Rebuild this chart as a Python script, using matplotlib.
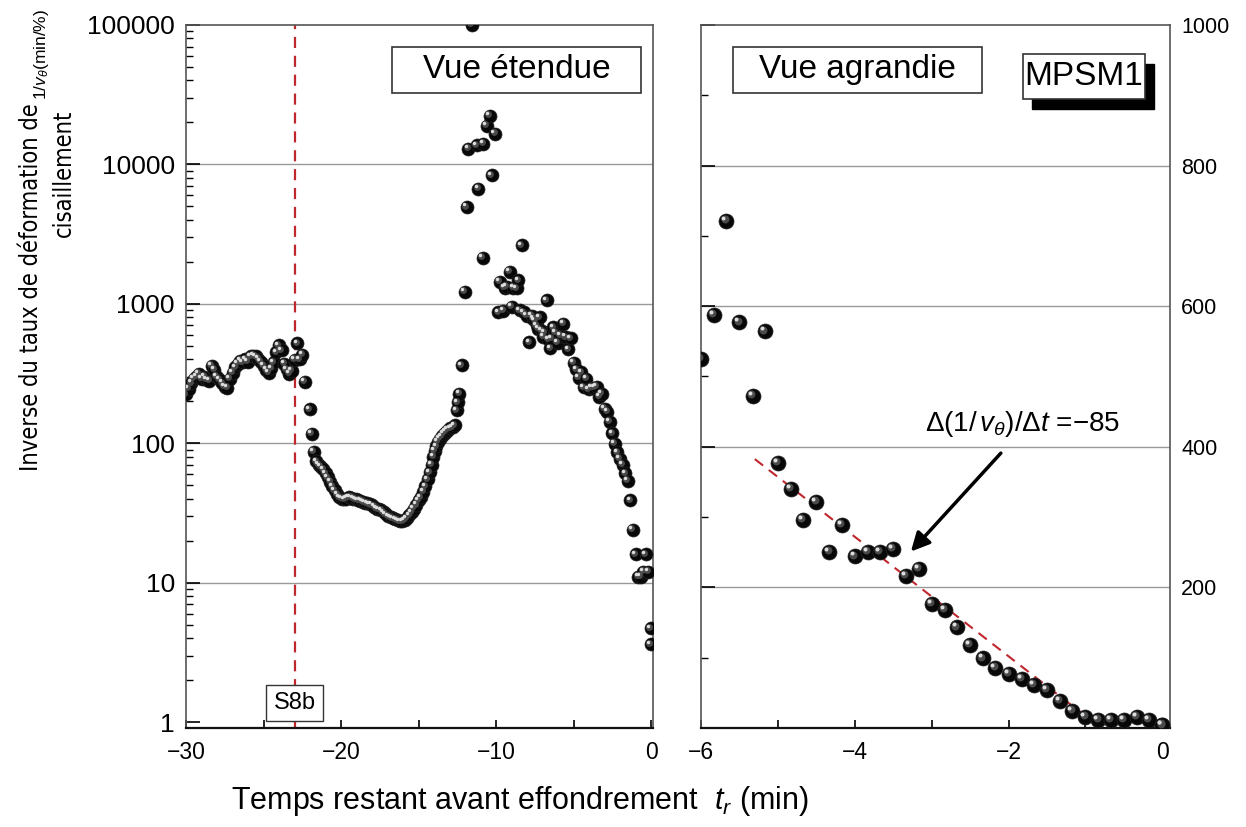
import numpy as np
import matplotlib
matplotlib.use("Agg")
import matplotlib.pyplot as plt
from matplotlib import font_manager as fm
from matplotlib.patches import Rectangle
from matplotlib.transforms import offset_copy
from matplotlib.ticker import FixedLocator, NullFormatter

plt.rcParams['font.family'] = ['Liberation Sans', 'DejaVu Sans']
plt.rcParams['mathtext.fontset'] = 'custom'
plt.rcParams['mathtext.rm'] = 'Liberation Sans'
plt.rcParams['mathtext.it'] = 'Liberation Sans:italic'

## Data: time before collapse (min) and 1/v_theta (min/%)
## early part of the record (only shown in the extended, log-scale view)
early_t = [-30.00, -29.83, -29.67, -29.50, -29.33, -29.17, -29.00, -28.83, -28.67, -28.50,
           -28.33, -28.17, -28.00, -27.83, -27.67, -27.50, -27.33, -27.17, -27.00, -26.83,
           -26.67, -26.50, -26.33, -26.17, -26.00, -25.83, -25.67, -25.50, -25.33, -25.17,
           -25.00, -24.83, -24.67, -24.50, -24.33, -24.17, -24.00, -23.83, -23.67, -23.50,
           -23.33, -23.17, -23.00, -22.83, -22.67, -22.50, -22.33,
           -22.00, -21.88, -21.75, -21.60, -21.45, -21.30, -21.15, -21.00, -20.85, -20.70,
           -20.55, -20.40, -20.25, -20.10, -19.95, -19.80, -19.65, -19.50, -19.35, -19.20,
           -19.05, -18.90, -18.75, -18.60, -18.45, -18.30, -18.15, -18.00, -17.85, -17.70,
           -17.55, -17.40, -17.25, -17.10, -16.95, -16.80, -16.65, -16.50, -16.35, -16.20,
           -16.05, -15.90, -15.75, -15.60, -15.45, -15.30, -15.15, -15.00, -14.85, -14.70,
           -14.55, -14.40, -14.27, -14.15, -14.05, -13.95, -13.85, -13.75, -13.62, -13.50,
           -13.37, -13.25, -13.12, -12.95, -12.78, -12.65, -12.54, -12.45, -12.37, -12.21,
           -12.00, -11.89, -11.79, -11.57, -11.25, -11.14, -10.86, -10.82, -10.60, -10.39,
           -10.28, -10.06, -9.85, -9.74, -9.53, -9.42, -9.31, -9.10, -8.99, -8.88,
           -8.67, -8.56, -8.45, -8.34, -8.20, -8.02, -7.85, -7.70, -7.59, -7.48,
           -7.38, -7.27, -7.16, -7.05, -6.95, -6.84, -6.73, -6.62, -6.50, -6.40,
           -6.30, -6.17]
early_v = [225, 245, 270, 290, 300, 315, 290, 300, 285, 280,
           360, 335, 300, 285, 270, 255, 250, 290, 320, 350,
           370, 390, 380, 400, 385, 420, 425, 420, 405, 385,
           360, 335, 320, 345, 380, 450, 505, 465, 370, 340,
           315, 330, 395, 520, 400, 430, 275,
           175, 117, 87, 74, 70, 68, 65, 61, 57, 53,
           49, 46, 43, 41, 40, 39.5, 40, 41, 40.5, 40,
           39.5, 39, 38.5, 38, 37.5, 37, 36.5, 36, 35, 34,
           33.5, 33, 32, 31, 30, 29.5, 29, 28.5, 28, 27.5,
           27.5, 28, 29, 30.5, 32, 34, 36, 39, 41, 45,
           49, 55, 62, 70, 80, 88, 95, 102, 108, 112,
           117, 121, 125, 128, 130, 134, 172, 196, 227, 362,
           1215, 4940, 13000, 100000, 13700, 6700, 2130, 14000, 19000, 22400,
           8340, 16600, 870, 1440, 890, 1300, 1320, 1690, 950, 1300,
           1290, 1470, 900, 2620, 870, 820, 530, 820, 780, 760,
           700, 660, 800, 640, 580, 620, 1060, 555, 480, 560,
           680, 620]

## last six minutes (shown in both views)
late_t = [-6.00, -5.83, -5.67, -5.50, -5.33, -5.17, -5.00, -4.83, -4.67, -4.50,
          -4.33, -4.17, -4.00, -3.83, -3.67, -3.50, -3.33, -3.17, -3.00, -2.83,
          -2.67, -2.50, -2.33, -2.17, -2.00, -1.83, -1.67, -1.50, -1.33, -1.17,
          -1.00, -0.83, -0.67, -0.50, -0.33, -0.17, 0.00, 0.00]
late_v = [525, 588, 721, 577, 472, 564, 377, 340, 296, 322,
          251, 289, 244, 250, 250, 255, 216, 226, 177, 168,
          143, 118, 99, 86, 77, 70, 61, 54, 39, 24,
          16, 11, 11, 12, 16, 12, 4.7, 3.6]

## fitted line in the enlarged view
fit_slope = -85
fit_intercept = -68
fit_t = [-5.3, -0.9]

event_t = -23  # S8b

left_xticks = [-30, -20, -10, 0]
left_yticks = [1, 10, 100, 1000, 10000, 100000]
right_xticks = [-6, -4, -2, 0]
right_yticks = [200, 400, 600, 800, 1000]


## look for a condensed face for the long y title
def narrow_font():
    for fam, stretch in [('Liberation Sans Narrow', 'normal'), ('DejaVu Sans', 'condensed')]:
        try:
            path = fm.findfont(fm.FontProperties(family=fam, stretch=stretch),
                               fallback_to_default=False)
        except ValueError:
            continue
        if 'Narrow' in path or 'Condensed' in path:
            return dict(family=fam, fontstretch=stretch, fontsize=17)
    return dict(family='Liberation Sans', fontsize=17)


def draw_balls(ax, fig, x, y, d_px):
    ## black sphere with a grey highlight (upper left)
    s0 = (d_px * 72 / fig.dpi) ** 2
    ax.scatter(x, y, s=s0, c='#080808', edgecolors='#222222', linewidths=0.5, zorder=3)
    t1 = offset_copy(ax.transData, fig=fig, x=-0.12 * d_px, y=0.12 * d_px, units='dots')
    ax.scatter(x, y, s=s0 * 0.28, c='#4a4a4a', linewidths=0, transform=t1, zorder=4)
    t2 = offset_copy(ax.transData, fig=fig, x=-0.2 * d_px, y=0.2 * d_px, units='dots')
    ax.scatter(x, y, s=s0 * 0.07, c='#dddddd', linewidths=0, transform=t2, zorder=5)


def style_spines(ax):
    for side in ['left', 'right', 'top']:
        ax.spines[side].set_color('#555555')
        ax.spines[side].set_linewidth(1.2)
    ax.spines['bottom'].set_color('#111111')
    ax.spines['bottom'].set_linewidth(1.6)


def label_box(ax, x0, y0, w, h, text, size, shadow=False):
    if shadow:
        ax.add_patch(Rectangle((x0 + 0.02, y0 - 0.014), w, h, transform=ax.transAxes,
                               fc='black', ec='black', zorder=6, clip_on=False))
    ax.add_patch(Rectangle((x0, y0), w, h, transform=ax.transAxes,
                           fc='white', ec='#333333', lw=1.2, zorder=7, clip_on=False))
    ax.text(x0 + w / 2, y0 + h / 2, text, transform=ax.transAxes, ha='center',
            va='center', fontsize=size, zorder=8)


def main():
    fig = plt.figure(figsize=(12.46, 8.27), dpi=100)
    ax1 = fig.add_axes([0.1493, 0.1197, 0.3748, 0.8501])
    ax2 = fig.add_axes([0.5626, 0.1197, 0.3764, 0.8501])

    all_t = early_t + late_t
    all_v = early_v + late_v

    ## extended view (log scale)
    ax1.set_yscale('log')
    ax1.set_xlim(-30, 0.13)
    ax1.set_ylim(0.906, 100000)
    for yv in left_yticks[1:-1]:
        ax1.axhline(yv, color='#999999', lw=1.0, zorder=1)
    ax1.axvline(event_t, color='#c0272d', lw=1.6, ls=(0, (5, 3.5)), zorder=2)
    draw_balls(ax1, fig, all_t, all_v, 13)

    ax1.xaxis.set_major_locator(FixedLocator(left_xticks))
    ax1.xaxis.set_minor_locator(FixedLocator([-25, -15, -5]))
    ax1.set_yticks(left_yticks)
    ax1.set_yticklabels([str(v) for v in left_yticks])
    ax1.yaxis.set_minor_formatter(NullFormatter())
    ax1.tick_params(axis='x', which='both', direction='in', length=6, width=1.2,
                    labelsize=16.5, pad=9, top=False)
    ax1.tick_params(axis='y', which='major', direction='in', length=10, width=1.2,
                    labelsize=19, pad=8, right=False)
    ax1.tick_params(axis='y', which='minor', direction='in', length=5, width=1.0, right=False)
    style_spines(ax1)

    ax1.text(event_t, 1.37, 'S8b', ha='center', va='center', fontsize=17, zorder=8,
             bbox=dict(boxstyle='square,pad=0.3', fc='white', ec='#333333', lw=1.0))
    label_box(ax1, 0.441, 0.903, 0.533, 0.066, 'Vue étendue', 24)

    ## enlarged view (linear scale)
    ax2.set_xlim(-6, 0.1)
    ax2.set_ylim(0, 1000)
    for yv in right_yticks[:-1]:
        ax2.axhline(yv, color='#999999', lw=1.0, zorder=1)
    fit_y = [fit_slope * t + fit_intercept for t in fit_t]
    ax2.plot(fit_t, fit_y, color='#c0272d', lw=1.5, ls=(0, (5, 3.5)), zorder=2)
    draw_balls(ax2, fig, late_t, late_v, 15)

    ax2.xaxis.set_major_locator(FixedLocator(right_xticks))
    ax2.xaxis.set_minor_locator(FixedLocator([-5, -3, -1]))
    ax2.yaxis.set_major_locator(FixedLocator(right_yticks))
    ax2.yaxis.set_minor_locator(FixedLocator([100, 300, 500, 700, 900]))
    ax2.tick_params(axis='x', which='both', direction='in', length=6, width=1.2,
                    labelsize=16.5, pad=9, top=False)
    ax2.tick_params(axis='y', which='major', direction='in', length=10, width=1.2,
                    left=True, right=False, labelleft=False, labelright=True,
                    labelsize=15.5, pad=8)
    ax2.tick_params(axis='y', which='minor', direction='in', length=5, width=1.0,
                    left=True, right=False)
    style_spines(ax2)

    label_box(ax2, 0.068, 0.903, 0.531, 0.066, 'Vue agrandie', 24)
    label_box(ax2, 0.686, 0.895, 0.26, 0.064, 'MPSM1', 24, shadow=True)

    ax2.annotate('', xy=(-3.27, 251), xytext=(-2.1, 391),
                 arrowprops=dict(arrowstyle='-|>', color='black', lw=2.5,
                                 mutation_scale=28, shrinkA=0, shrinkB=0), zorder=6)
    ax2.text(-1.82, 432, r'$\Delta(1/\,v_\theta)/\Delta t$ =$-$85', ha='center',
             va='center', fontsize=20, zorder=6)

    ## axis titles
    ylab = narrow_font()
    fig.text(0.0249, 0.653, 'Inverse du taux de déformation de', rotation=90,
             ha='center', va='center', **ylab)
    fig.text(0.0514, 0.867, 'cisaillement', rotation=90, ha='center', va='top', **ylab)
    fig.text(0.033, 0.879, r'1/$v_\theta$(min/%)', rotation=90, ha='center',
             va='bottom', fontsize=12.5)
    fig.text(0.417, 0.032, r'Temps restant avant effondrement  $t_r$ (min)',
             ha='center', va='center', fontsize=22)

    fig.savefig('out.png', dpi=100)


if __name__ == "__main__":
    main()
